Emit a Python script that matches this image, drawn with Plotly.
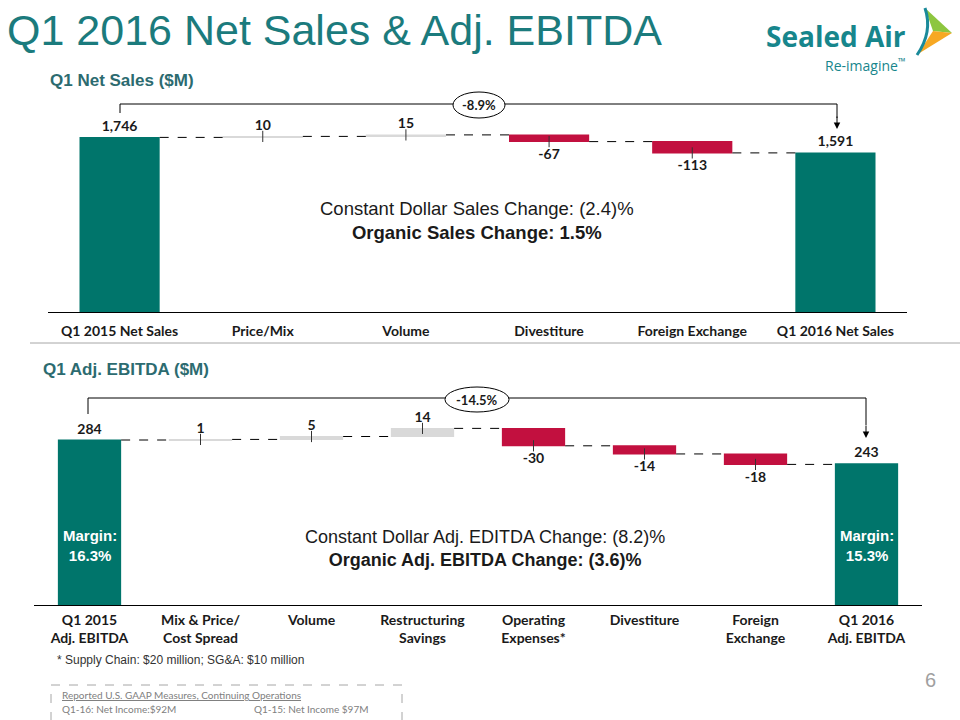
import numpy as np
import plotly.graph_objects as go

# ---------------- data ----------------
sales_categories = ["Q1 2015 Net Sales", "Price/Mix", "Volume", "Divestiture",
                    "Foreign Exchange", "Q1 2016 Net Sales"]
sales_values = [1746, 10, 15, -67, -113, 1591]
sales_measures = ["absolute", "relative", "relative", "relative", "relative", "absolute"]
sales_change = "-8.9%"

ebitda_categories = ["Q1 2015<br>Adj. EBITDA", "Mix & Price/<br>Cost Spread", "Volume",
                     "Restructuring<br>Savings", "Operating<br>Expenses*", "Divestiture",
                     "Foreign<br>Exchange", "Q1 2016<br>Adj. EBITDA"]
ebitda_values = [284, 1, 5, 14, -30, -14, -18, 243]
ebitda_measures = ["absolute", "relative", "relative", "relative", "relative", "relative",
                   "relative", "absolute"]
ebitda_change = "-14.5%"
margins = ["16.3%", "15.3%"]

# ---------------- style ----------------
W, H = 960, 720
TEAL = "#00756B"
RED = "#C2103F"
GRAY = "#D9D9D9"
TITLE_C = "#1B7B7D"
SUB_C = "#2C6B70"
LAB_FONT = "Lato"
ARIAL = "Liberation Sans, Arial"


def px(x):
    return x / W


def py(y):
    return 1 - y / H


def labels(vals):
    return ["<b>" + f"{v:,}" + "</b>" for v in vals]


def ends(vals, measures):
    out, run = [], 0
    for v, m in zip(vals, measures):
        run = v if m == "absolute" else run + v
        out.append(run)
    return out


def txt(x, y, text, size, color="#1a1a1a", family=ARIAL, xanchor="center", yanchor="middle", **kw):
    d = dict(xref="paper", yref="paper", x=px(x), y=py(y), text=text, showarrow=False,
             xanchor=xanchor, yanchor=yanchor, font=dict(family=family, size=size, color=color))
    d.update(kw)
    return d


fig = go.Figure()

conn = dict(mode="between", line=dict(color="black", width=1, dash="dash"))

fig.add_trace(go.Waterfall(
    x=sales_categories, y=sales_values, measure=sales_measures,
    xaxis="x", yaxis="y", width=0.56,
    text=labels(sales_values), textposition="outside", cliponaxis=False,
    textfont=dict(family=LAB_FONT, size=14, color="#1a1a1a"),
    connector=conn,
    increasing=dict(marker=dict(color=GRAY)),
    decreasing=dict(marker=dict(color=RED)),
    totals=dict(marker=dict(color=TEAL)),
    hoverinfo="skip", showlegend=False))

fig.add_trace(go.Waterfall(
    x=ebitda_categories, y=ebitda_values, measure=ebitda_measures,
    xaxis="x2", yaxis="y2", width=0.57,
    text=labels(ebitda_values), textposition="outside", cliponaxis=False,
    textfont=dict(family=LAB_FONT, size=14, color="#1a1a1a"),
    connector=conn,
    increasing=dict(marker=dict(color=GRAY)),
    decreasing=dict(marker=dict(color=RED)),
    totals=dict(marker=dict(color=TEAL)),
    hoverinfo="skip", showlegend=False))

# small tick marks at the end of each change bar
s_end = ends(sales_values, sales_measures)
fig.add_trace(go.Scatter(
    x=sales_categories[1:-1], y=s_end[1:-1], xaxis="x", yaxis="y", mode="markers",
    marker=dict(symbol="line-ns", size=8, line=dict(color="#333", width=1)),
    hoverinfo="skip", showlegend=False, cliponaxis=False))
e_end = ends(ebitda_values, ebitda_measures)
fig.add_trace(go.Scatter(
    x=ebitda_categories[1:-1], y=e_end[1:-1], xaxis="x2", yaxis="y2", mode="markers",
    marker=dict(symbol="line-ns", size=8, line=dict(color="#333", width=1)),
    hoverinfo="skip", showlegend=False, cliponaxis=False))

# ---------------- axes ----------------
top_base, top_top = 312, 90
bot_base, bot_top = 605, 380
fig.update_layout(
    xaxis=dict(domain=[px(48), px(907)], anchor="y", type="category",
               showline=True, linecolor="black", linewidth=1, ticks="",
               tickfont=dict(family=LAB_FONT, size=14, color="#1a1a1a", weight="bold"),
               ticklabelstandoff=6, fixedrange=True, showgrid=False),
    yaxis=dict(domain=[py(top_base), py(top_top)], range=[0, (top_base - top_top) * 10],
               visible=False, fixedrange=True),
    xaxis2=dict(domain=[px(34), px(922)], anchor="y2", type="category",
                showline=True, linecolor="black", linewidth=1, ticks="",
                tickfont=dict(family=LAB_FONT, size=14, color="#1a1a1a", weight="bold"),
                ticklabelstandoff=2, fixedrange=True, showgrid=False),
    yaxis2=dict(domain=[py(bot_base), py(bot_top)], range=[0, (bot_base - bot_top) / 0.581],
                visible=False, fixedrange=True),
)

shapes = []
annos = []

# brackets
shapes.append(dict(type="path", xref="paper", yref="paper",
                   path=f"M {px(120)},{py(113)} L {px(120)},{py(104)} L {px(837)},{py(104)} L {px(837)},{py(118)}",
                   line=dict(color="black", width=1)))
annos.append(dict(xref="paper", yref="paper", x=px(837), y=py(129), text="", showarrow=True,
                  arrowhead=2, arrowsize=1.3, arrowwidth=1, arrowcolor="black", ax=0, ay=-14))
shapes.append(dict(type="circle", xref="paper", yref="paper", x0=px(453), x1=px(505),
                   y0=py(118), y1=py(92), fillcolor="white", line=dict(color="black", width=1)))
annos.append(txt(479, 105, "<b>" + sales_change + "</b>", 13, family=LAB_FONT))

shapes.append(dict(type="path", xref="paper", yref="paper",
                   path=f"M {px(88)},{py(414)} L {px(88)},{py(398)} L {px(866)},{py(398)} L {px(866)},{py(425)}",
                   line=dict(color="black", width=1)))
annos.append(dict(xref="paper", yref="paper", x=px(866), y=py(438), text="", showarrow=True,
                  arrowhead=2, arrowsize=1.3, arrowwidth=1, arrowcolor="black", ax=0, ay=-14))
shapes.append(dict(type="circle", xref="paper", yref="paper", x0=px(445), x1=px(509),
                   y0=py(412), y1=py(387), fillcolor="white", line=dict(color="black", width=1)))
annos.append(txt(477, 400, "<b>" + ebitda_change + "</b>", 13, family=LAB_FONT))

# margin labels inside the total bars
for cat, m in zip([ebitda_categories[0], ebitda_categories[-1]], margins):
    annos.append(dict(xref="x2", yref="paper", x=cat, y=py(545), xanchor="center", yanchor="middle",
                      text="<b>Margin:<br>" + m + "</b>", showarrow=False,
                      font=dict(family=ARIAL, size=15, color="white")))

# title and subtitles
annos.append(txt(5, 30, "Q1 2016 Net Sales & Adj. EBITDA", 43, TITLE_C, xanchor="left"))
annos.append(txt(48, 80, "<b>Q1 Net Sales ($M)</b>", 17, SUB_C, xanchor="left"))
annos.append(txt(41, 370, "<b>Q1 Adj. EBITDA ($M)</b>", 17, SUB_C, xanchor="left"))

# centre notes
annos.append(txt(477, 220,
                 "Constant Dollar Sales Change: (2.4)%<br><b>Organic Sales Change: 1.5%</b>", 18.5))
annos.append(txt(485, 548,
                 "Constant Dollar Adj. EDITDA Change: (8.2)%<br><b>Organic Adj. EBITDA Change: (3.6)%</b>", 18))

# footnote
annos.append(txt(55, 660, "* Supply Chain: $20 million; SG&A: $10 million", 12, "#333", xanchor="left"))

# separator line
shapes.append(dict(type="line", xref="paper", yref="paper", x0=px(30), x1=1, y0=py(343), y1=py(343),
                   line=dict(color="#A6A6A6", width=1)))

# GAAP box
shapes.append(dict(type="rect", xref="paper", yref="paper", x0=px(51), x1=px(402), y0=py(685), y1=py(730),
                   line=dict(color="#A6A6A6", width=1, dash="dash")))
annos.append(txt(60, 695, "<u>Reported U.S. GAAP Measures, Continuing Operations</u>", 10, "#808080",
                 family=LAB_FONT, xanchor="left"))
annos.append(txt(60, 709, "Q1-16: Net Income:$92M", 10, "#808080", family=LAB_FONT, xanchor="left"))
annos.append(txt(252, 709, "Q1-15: Net Income $97M", 10, "#808080", family=LAB_FONT, xanchor="left"))

# page number
annos.append(txt(930, 680, "6", 20, "#A0A0A0"))

# logo
annos.append(txt(908, 36, "<b>Sealed Air</b>", 28, "#17868C", family="Open Sans", xanchor="right"))
annos.append(txt(907, 65, "Re-imagine<sup>™</sup>", 14, "#17868C", family="Open Sans", xanchor="right"))


def ppath(pts, close=True):
    s = "M " + " L ".join(f"{px(x)},{py(y)}" for x, y in pts)
    return s + (" Z" if close else "")


shapes.append(dict(type="path", xref="paper", yref="paper",
                   path=ppath([(925, 8), (952, 33), (933, 31)]),
                   fillcolor="#8DC63F", line=dict(width=0)))
shapes.append(dict(type="path", xref="paper", yref="paper",
                   path=ppath([(933, 31), (952, 33), (918, 54)]),
                   fillcolor="#F7A823", line=dict(width=0)))
shapes.append(dict(type="path", xref="paper", yref="paper",
                   path=f"M {px(925)},{py(8)} Q {px(933)},{py(32)} {px(917)},{py(55)}",
                   line=dict(color="#1A8A9A", width=3)))

fig.update_layout(
    width=W, height=H, margin=dict(l=0, r=0, t=0, b=0),
    paper_bgcolor="white", plot_bgcolor="white",
    shapes=shapes, annotations=annos, showlegend=False,
)

fig.write_html("out.html", config={"displayModeBar": False},
               post_script="document.body.style.margin='0';")
